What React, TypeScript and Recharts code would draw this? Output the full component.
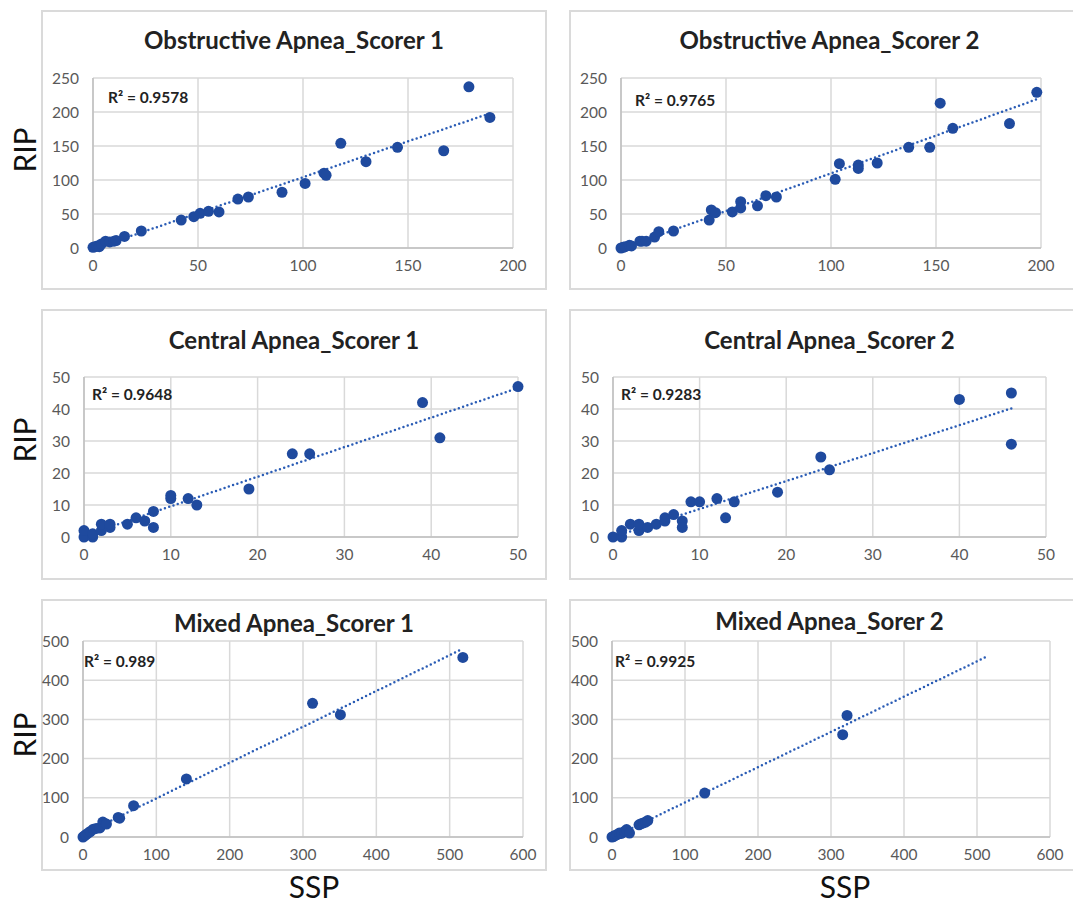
import React from "react";
import { ScatterChart, Scatter, XAxis, YAxis, CartesianGrid, ReferenceLine } from "recharts";

// SSP (x) vs RIP (y) event counts
const obs1Ssp = [0, 1, 2, 3, 4, 6, 8, 10, 11, 15, 23, 42, 48, 51, 55, 60, 69, 74, 90, 101, 110, 111, 118, 130, 145, 167, 179, 189];
const obs1Rip = [1, 2, 3, 2, 6, 10, 9, 10, 11, 17, 25, 41, 46, 51, 54, 53, 72, 75, 82, 95, 110, 107, 154, 127, 148, 143, 237, 192];

const obs2Ssp = [0, 1, 2, 4, 5, 9, 10, 12, 16, 18, 25, 42, 43, 45, 53, 57, 57, 65, 69, 74, 102, 104, 113, 113, 122, 137, 147, 152, 158, 185, 198];
const obs2Rip = [0, 1, 2, 4, 3, 10, 10, 10, 16, 24, 25, 41, 56, 52, 53, 68, 59, 62, 77, 75, 101, 124, 122, 117, 125, 148, 148, 213, 176, 183, 229];

const cen1Ssp = [0, 0, 1, 1, 2, 2, 3, 3, 5, 6, 7, 8, 8, 10, 10, 12, 13, 19, 24, 26, 39, 41, 50];
const cen1Rip = [0, 2, 0, 1, 2, 4, 3, 4, 4, 6, 5, 8, 3, 12, 13, 12, 10, 15, 26, 26, 42, 31, 47];

const cen2Ssp = [0, 1, 1, 2, 3, 3, 4, 5, 6, 6, 7, 8, 8, 9, 10, 12, 13, 14, 19, 24, 25, 40, 46, 46];
const cen2Rip = [0, 0, 2, 4, 2, 4, 3, 4, 5, 6, 7, 5, 3, 11, 11, 12, 6, 11, 14, 25, 21, 43, 45, 29];

const mix1Ssp = [0, 2, 4, 7, 10, 14, 18, 23, 27, 32, 48, 50, 69, 141, 313, 351, 518];
const mix1Rip = [0, 3, 6, 10, 14, 20, 22, 23, 38, 33, 50, 48, 80, 148, 341, 312, 458];

const mix2Ssp = [0, 2, 4, 7, 10, 13, 17, 20, 24, 37, 40, 43, 46, 49, 127, 316, 322];
const mix2Rip = [0, 1, 4, 6, 10, 9, 14, 19, 10, 31, 34, 36, 38, 42, 112, 261, 310];
const mix2TrendTo = 511; // trendline in the original runs past the last point

const titles = [
  "Obstructive Apnea_Scorer 1",
  "Obstructive Apnea_Scorer 2",
  "Central Apnea_Scorer 1",
  "Central Apnea_Scorer 2",
  "Mixed Apnea_Scorer 1",
  "Mixed Apnea_Sorer 2",
];
const r2Labels = ["R² = 0.9578", "R² = 0.9765", "R² = 0.9648", "R² = 0.9283", "R² = 0.989", "R² = 0.9925"];

const obsXTicks = [0, 50, 100, 150, 200];
const obsYTicks = [0, 50, 100, 150, 200, 250];
const cenTicks = [0, 10, 20, 30, 40, 50];
const mixXTicks = [0, 100, 200, 300, 400, 500, 600];
const mixYTicks = [0, 100, 200, 300, 400, 500];

const BLUE = "#1F4A9E";
const TREND = "#2A5CB5";
const GRID = "#d9d9d9";
const FONT = "Lato, 'Open Sans', sans-serif";
const YW = 50;

// least squares line for the dotted trend
function fit(xs: number[], ys: number[]) {
  const n = xs.length;
  const mx = xs.reduce((s, v) => s + v, 0) / n;
  const my = ys.reduce((s, v) => s + v, 0) / n;
  let sxy = 0, sxx = 0;
  xs.forEach((x, i) => {
    sxy += (x - mx) * (ys[i] - my);
    sxx += (x - mx) * (x - mx);
  });
  const slope = sxy / sxx;
  return { slope, icept: my - slope * mx };
}

const dot = (p: any) => <circle cx={p.cx} cy={p.cy} r={5.5} fill={BLUE} />;

function Panel(props: any) {
  const { box, plot, titleY, title, r2, r2At, xs, ys, xTicks, yTicks, trendTo } = props;
  const pts = xs.map((x: number, i: number) => ({ x, y: ys[i] }));
  const { slope, icept } = fit(xs, ys);
  const t0 = Math.min(...xs);
  const t1 = trendTo ?? Math.max(...xs);
  const tick = { fill: "#595959", fontSize: 15.5, fontFamily: FONT };

  return (
    <>
      <div
        style={{
          position: "absolute", left: box[0], top: box[1], width: box[2] - box[0], height: box[3] - box[1],
          border: "2px solid #dadada", boxSizing: "border-box",
        }}
      />
      <div
        style={{
          position: "absolute", left: box[0], width: box[2] - box[0], top: titleY - 15, lineHeight: "30px",
          textAlign: "center", fontFamily: FONT, fontWeight: 700, fontSize: 24, color: "#222",
        }}
      >
        {title}
      </div>
      <div style={{ position: "absolute", left: plot[0] - YW, top: plot[1] - 10 }}>
        <ScatterChart
          width={plot[2] - plot[0] + YW + 25}
          height={plot[3] - plot[1] + 40}
          margin={{ top: 10, right: 25, bottom: 0, left: 0 }}
        >
          <CartesianGrid stroke={GRID} strokeWidth={1.5} />
          <XAxis
            type="number" dataKey="x" domain={[xTicks[0], xTicks[xTicks.length - 1]]} ticks={xTicks}
            interval={0} height={30} tickSize={0} tickMargin={12} tick={tick}
            axisLine={{ stroke: "#bfbfbf", strokeWidth: 1.5 }}
          />
          <YAxis
            type="number" dataKey="y" domain={[yTicks[0], yTicks[yTicks.length - 1]]} ticks={yTicks}
            interval={0} width={YW} tickSize={0} tickMargin={14} tick={tick}
            axisLine={{ stroke: "#bfbfbf", strokeWidth: 1.5 }}
          />
          <ReferenceLine
            segment={[{ x: t0, y: t0 * slope + icept }, { x: t1, y: t1 * slope + icept }]}
            stroke={TREND} strokeWidth={2.5} strokeDasharray="0 4.5" strokeLinecap="round" ifOverflow="visible"
          />
          <Scatter data={pts} shape={dot} isAnimationActive={false} />
        </ScatterChart>
      </div>
      <div
        style={{
          position: "absolute", left: r2At[0], top: r2At[1] - 10, lineHeight: "20px",
          fontFamily: FONT, fontWeight: 700, fontSize: 15.5, color: "#222", whiteSpace: "nowrap",
        }}
      >
        {r2}
      </div>
    </>
  );
}

const panels = [
  { box: [41, 10, 547, 290], plot: [93, 78, 513, 248], titleY: 40, r2At: [108, 97], xs: obs1Ssp, ys: obs1Rip, xTicks: obsXTicks, yTicks: obsYTicks },
  { box: [569, 10, 1090, 290], plot: [621, 78, 1041, 248], titleY: 40, r2At: [635, 100], xs: obs2Ssp, ys: obs2Rip, xTicks: obsXTicks, yTicks: obsYTicks },
  { box: [41, 309, 547, 580], plot: [84, 377, 518, 537], titleY: 340, r2At: [92, 394], xs: cen1Ssp, ys: cen1Rip, xTicks: cenTicks, yTicks: cenTicks },
  { box: [569, 309, 1090, 580], plot: [613, 377, 1046, 537], titleY: 340, r2At: [621, 394], xs: cen2Ssp, ys: cen2Rip, xTicks: cenTicks, yTicks: cenTicks },
  { box: [41, 599, 547, 871], plot: [83, 641, 523, 837], titleY: 623, r2At: [84, 661], xs: mix1Ssp, ys: mix1Rip, xTicks: mixXTicks, yTicks: mixYTicks },
  { box: [569, 599, 1090, 871], plot: [612, 641, 1050, 837], titleY: 621, r2At: [615, 661], xs: mix2Ssp, ys: mix2Rip, xTicks: mixXTicks, yTicks: mixYTicks, trendTo: mix2TrendTo },
];

const bigLabel = { position: "absolute" as const, fontFamily: FONT, fontSize: 30, color: "#111", lineHeight: "30px" };

export default function App() {
  return (
    <div style={{ position: "absolute", left: 0, top: 0, width: 1073, height: 907, background: "#fff", overflow: "hidden" }}>
      {panels.map((p, i) => (
        <Panel key={i} {...p} title={titles[i]} r2={r2Labels[i]} />
      ))}
      {[150, 440, 735].map((cy) => (
        <div key={cy} style={{ ...bigLabel, left: 24 - 40, top: cy - 15, width: 80, textAlign: "center", transform: "rotate(-90deg)" }}>
          RIP
        </div>
      ))}
      {[314, 845].map((cx) => (
        <div key={cx} style={{ ...bigLabel, left: cx - 40, top: 871, width: 80, textAlign: "center" }}>
          SSP
        </div>
      ))}
    </div>
  );
}
